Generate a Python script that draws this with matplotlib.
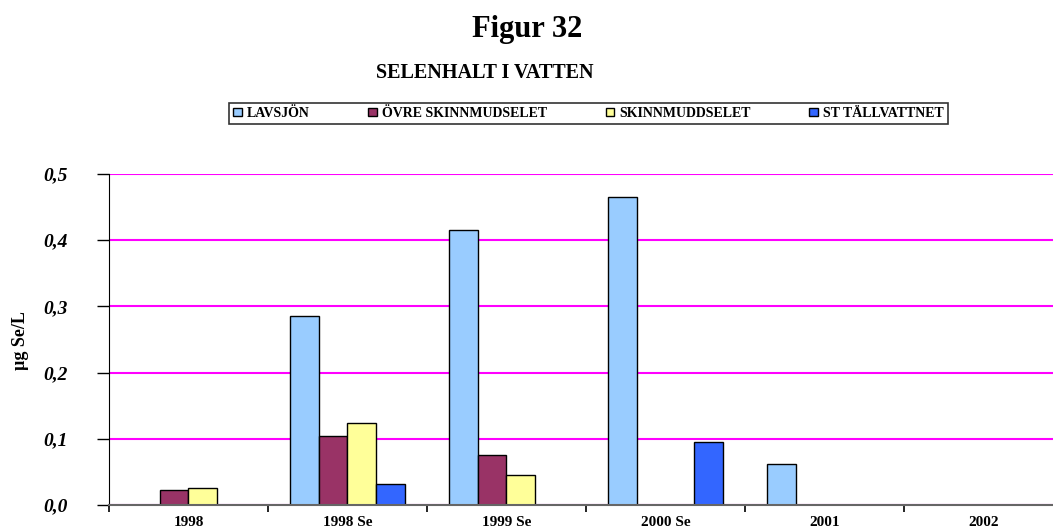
# selenhalt i vatten - figur 32

import numpy as np
from matplotlib import pyplot as plt

plt.rcParams['font.family'] = ['Liberation Serif', 'DejaVu Serif']

# data
categories = ['1998', '1998 Se', '1999 Se', '2000 Se', '2001', '2002']
series = ['LAVSJÖN', 'ÖVRE SKINNMUDSELET', 'SKINNMUDDSELET', 'ST TÄLLVATTNET']
lavsjon = [np.nan, 0.285, 0.415, 0.465, 0.062, np.nan]
ovre_skinnmudselet = [0.022, 0.104, 0.075, np.nan, np.nan, np.nan]
skinnmuddselet = [0.026, 0.124, 0.045, np.nan, np.nan, np.nan]
st_tallvattnet = [np.nan, 0.031, np.nan, 0.095, np.nan, np.nan]
yticks = [0.0, 0.1, 0.2, 0.3, 0.4, 0.5]
ytick_labels = ['0,0', '0,1', '0,2', '0,3', '0,4', '0,5']

values = [lavsjon, ovre_skinnmudselet, skinnmuddselet, st_tallvattnet]
colors = ['#99CCFF', '#993366', '#FFFF99', '#3366FF']

fig = plt.figure(figsize=(10.53, 5.32), dpi=100)
ax = fig.add_axes([0.1035, 0.0508, 0.906, 0.6222])

x = np.arange(len(categories))
w = 0.18
offsets = [-1.5 * w, -0.5 * w, 0.5 * w, 1.5 * w]
for vals, c, off, name in zip(values, colors, offsets, series):
    ax.bar(x + off, vals, w, color=c, edgecolor='black', linewidth=1,
           label=name, zorder=3)

ax.set_xlim(-0.5, 5.5)
ax.set_ylim(0, 0.5)

ax.set_yticks(yticks)
ax.set_yticklabels(ytick_labels, fontsize=14, fontweight='bold', style='italic')
ax.tick_params(axis='y', length=9, width=1, pad=21)

ax.set_xticks(np.arange(-0.5, 6, 1))
ax.set_xticklabels([])
ax.set_xticks(x, minor=True)
ax.set_xticklabels(categories, minor=True, fontsize=11, fontweight='bold')
ax.tick_params(axis='x', which='major', length=5, width=1.2, color='black')
ax.tick_params(axis='x', which='minor', length=0, pad=8)

ax.grid(axis='y', color='#FF00FF', linewidth=1.5, zorder=0)
ax.set_axisbelow(True)

for s in ['top', 'right']:
    ax.spines[s].set_visible(False)
ax.spines['left'].set_color('black')
ax.spines['bottom'].set_color('#666666')
ax.spines['bottom'].set_linewidth(1.5)
ax.spines['bottom'].set_zorder(4)

fig.text(0.019, 0.36, 'µg Se/L', rotation=90, ha='center', va='center',
         fontsize=13, fontweight='bold')

fig.text(0.5005, 0.944, 'Figur 32', ha='center', va='center',
         fontsize=22, fontweight='bold')
fig.text(0.4606, 0.862, 'SELENHALT I VATTEN', ha='center', va='center',
         fontsize=14.5, fontweight='bold')

leg = fig.legend(loc='center', bbox_to_anchor=(0.559, 0.7867), ncol=4,
                 frameon=True, fancybox=False, edgecolor='black',
                 prop={'size': 10, 'weight': 'bold'},
                 handlelength=0.6, handleheight=0.6, handletextpad=0.4,
                 columnspacing=4.2, borderpad=0.3)
leg.get_frame().set_linewidth(1.2)

plt.savefig('out.png', dpi=100)
